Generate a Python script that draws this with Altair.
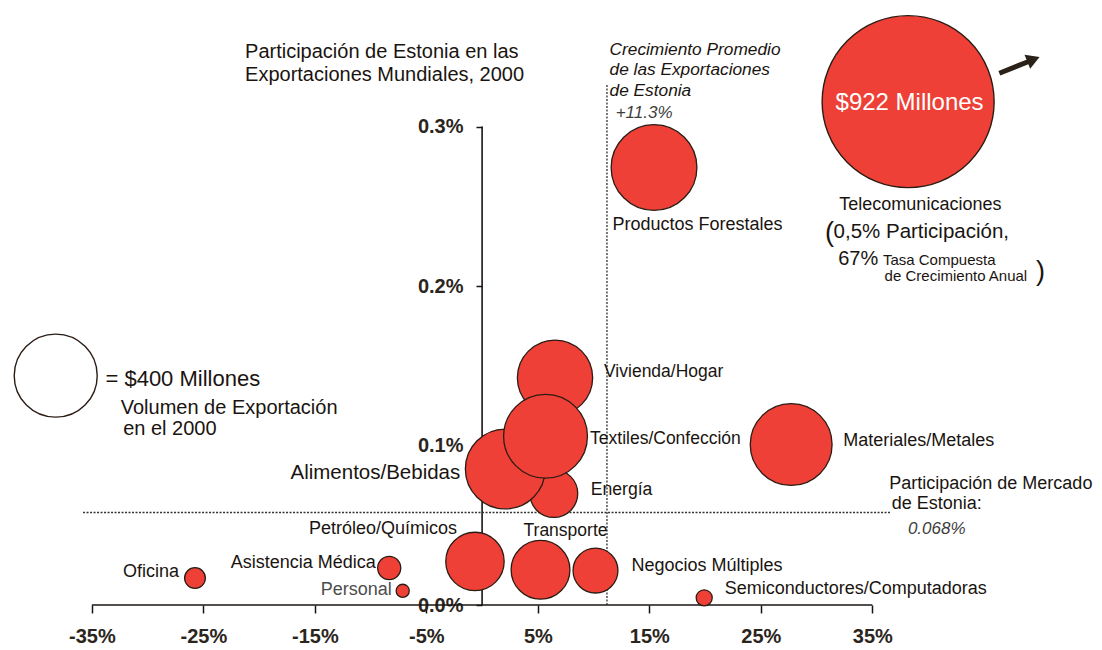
import altair as alt
import pandas as pd

FONT = "Liberation Sans"
INK = "#1a1410"
RED = "#ee4036"
EDGE = "#2a1c14"

# ---------------- data ----------------
sectors = ["Energía", "Alimentos/Bebidas", "Vivienda/Hogar", "Textiles/Confección",
           "Productos Forestales", "Materiales/Metales", "Petróleo/Químicos", "Transporte",
           "Negocios Múltiples", "Oficina", "Asistencia Médica", "Personal",
           "Semiconductores/Computadoras"]
growth = [6.43, 2.08, 6.54, 5.69, 15.42, 27.72, -0.64, 5.24, 10.17, -25.75, -8.33, -7.12, 19.92]
share = [0.0699, 0.0853, 0.1425, 0.1058, 0.2743, 0.1006, 0.0273, 0.0221, 0.0216, 0.0169, 0.0232, 0.0089, 0.0045]
volume = [133, 370, 329, 408, 427, 389, 198, 201, 117, 25, 31, 10, 15]

legend_volume = [400]
telecom_text = ["$922 Millones"]

x_ticks = [-35, -25, -15, -5, 5, 15, 25, 35]
y_ticks = [0.0, 0.1, 0.2, 0.3]
avg_growth = [11.2]      # vertical dotted line (label +11.3%)
avg_share = [0.058]      # horizontal dotted line (label 0.068%)

# ---------------- layout (label placement, inset positions) ----------------
# per-sector label offsets in pixels from the bubble centre
label_dx = [37, -45, 49, 44.5, -41.5, 52, -18, -17, 36, -16, -13.5, -11, 20.5]
label_dy = [-4, 4, -5.5, 3, 58, -3.5, -32.5, -39, -5, -6, -5, -0.5, -8.5]
label_align = ["left", "right", "left", "left", "left", "left", "right", "left",
               "left", "right", "right", "right", "left"]
label_size = [17.6, 20.5, 17.5, 17.5, 18, 18, 18, 17.5, 18, 18, 18, 18, 18]
label_color = [INK] * 11 + ["#4d4d4d", INK]

xs = alt.Scale(domain=[-42.52, 54.88], nice=False, zero=False)
ys = alt.Scale(domain=[0, 0.3743], nice=False, zero=False)
size_scale = alt.Scale(domain=[0, 400], range=[0, 6889])

axis_x = alt.Axis(values=x_ticks, labelExpr="datum.value + '%'", domain=False, grid=False,
                  tickSize=8, tickWidth=1.5, tickColor=INK, labelFont=FONT, labelFontSize=20,
                  labelFontWeight="bold", labelColor="#2b2520", labelPadding=13, title=None,
                  labelFlush=False, labelOverlap=False)
axis_y = alt.Axis(values=y_ticks, labelExpr="format(datum.value, '.1f') + '%'", orient="left",
                  offset=-474, domain=False, grid=False, tickSize=6, tickWidth=1.5, tickColor=INK,
                  labelFont=FONT, labelFontSize=20, labelFontWeight="bold", labelColor="#2b2520",
                  labelPadding=13, title=None, labelOverlap=False, labelFlush=False)

bubbles = pd.DataFrame({"sector": sectors, "growth": growth, "share": share, "volume": volume})


def X(field, **kw):
    return alt.X(f"{field}:Q", scale=xs, axis=axis_x, title=None, **kw)


def Y(field, **kw):
    return alt.Y(f"{field}:Q", scale=ys, axis=axis_y, title=None, **kw)


layers = []

# axis lines and reference lines
layers.append(alt.Chart(pd.DataFrame({"a": [x_ticks[0]], "b": [x_ticks[-1]], "y": [y_ticks[0]]}))
              .mark_rule(color=INK, strokeWidth=1.6)
              .encode(x=X("a"), x2="b:Q", y=Y("y")))
layers.append(alt.Chart(pd.DataFrame({"x": [0], "a": [y_ticks[0]], "b": [y_ticks[-1]]}))
              .mark_rule(color=INK, strokeWidth=1.6)
              .encode(x=X("x"), y=Y("a"), y2="b:Q"))
layers.append(alt.Chart(pd.DataFrame({"x": avg_growth, "a": [0], "b": [0.326]}))
              .mark_rule(color="#333333", strokeWidth=1.3, strokeDash=[2, 1.5])
              .encode(x=X("x"), y=Y("a"), y2="b:Q"))
layers.append(alt.Chart(pd.DataFrame({"a": [-35.79], "b": [36.58], "y": avg_share}))
              .mark_rule(color="#333333", strokeWidth=1.3, strokeDash=[2, 1.5])
              .encode(x=X("a"), x2="b:Q", y=Y("y")))

# bubbles
layers.append(alt.Chart(bubbles)
              .mark_circle(fill=RED, stroke=EDGE, strokeWidth=1.3, opacity=1)
              .encode(x=X("growth"), y=Y("share"),
                      size=alt.Size("volume:Q", scale=size_scale, legend=None)))

# size key
layers.append(alt.Chart(pd.DataFrame({"x": [-38.24], "y": [0.1438], "v": legend_volume}))
              .mark_circle(fill="white", stroke=EDGE, strokeWidth=1.4, opacity=1)
              .encode(x=X("x"), y=Y("y"), size=alt.Size("v:Q", scale=size_scale, legend=None)))

# telecom inset bubble (off the scale)
layers.append(alt.Chart(pd.DataFrame({"x": [38.21], "y": [0.3156], "t": telecom_text}))
              .mark_circle(fill=RED, stroke=EDGE, strokeWidth=1.4, opacity=1, size=172 ** 2)
              .encode(x=X("x"), y=Y("y")))
layers.append(alt.Chart(pd.DataFrame({"x": [38.34], "y": [0.3145], "t": telecom_text}))
              .mark_text(color="white", font=FONT, fontSize=24, align="center", baseline="middle")
              .encode(x=X("x"), y=Y("y"), text="t:N"))

# arrow
layers.append(alt.Chart(pd.DataFrame({"a": [46.39], "b": [49.14], "c": [0.3334], "d": [0.3411]}))
              .mark_rule(color="#2a2218", strokeWidth=5)
              .encode(x=X("a"), x2="b:Q", y=Y("c"), y2="d:Q"))
layers.append(alt.Chart(pd.DataFrame({"x": [49.45], "y": [0.3421]}))
              .mark_point(shape="triangle-right", filled=True, color="#2a2218", opacity=1,
                          size=230, angle=338)
              .encode(x=X("x"), y=Y("y")))

# sector labels
for i, name in enumerate(sectors):
    layers.append(alt.Chart(bubbles)
                  .transform_filter(alt.datum.sector == name)
                  .mark_text(font=FONT, fontSize=label_size[i], color=label_color[i],
                             align=label_align[i], baseline="middle",
                             dx=label_dx[i], dy=label_dy[i])
                  .encode(x=X("growth"), y=Y("share"), text="sector:N"))

# free annotations: (text, x, y of first line, style); multi-line texts use "\n"
styles = {
    "title": dict(fontSize=20, color=INK, lineHeight=22.5),
    "ital": dict(fontSize=17.3, color=INK, fontStyle="italic", lineHeight=20.5),
    "ital_light": dict(fontSize=17, color="#3d3d3d", fontStyle="italic", fontWeight=300),
    "lab": dict(fontSize=18, color=INK, lineHeight=20),
    "big": dict(fontSize=20.5, color=INK),
    "small": dict(fontSize=15, color=INK, lineHeight=15.7),
    "paren": dict(fontSize=27, color=INK),
    "key": dict(fontSize=22, color=INK),
    "key2": dict(fontSize=20, color=INK, lineHeight=21.6),
}
annotations = [
    ("Participación de Estonia en las\nExportaciones Mundiales, 2000", -21.26, 0.3467, "title"),
    ("Crecimiento Promedio\nde las Exportaciones\nde Estonia", 11.43, 0.3480, "ital"),
    ("+11.3%", 11.98, 0.3083, "ital_light"),
    ("Telecomunicaciones", 32.04, 0.2506, "lab"),
    ("(", 30.75, 0.2335, "paren"),
    ("0,5% Participación,", 31.52, 0.2337, "big"),
    ("67%", 31.94, 0.2167, "key2"),
    ("Tasa Compuesta", 35.95, 0.2163, "small"),
    ("de Crecimiento Anual", 36.10, 0.2065, "small"),
    (")", 49.68, 0.2089, "paren"),
    ("= $400 Millones", -33.78, 0.1415, "key"),
    ("Volumen de Exportación", -32.41, 0.1237, "key2"),
    ("en el 2000", -32.19, 0.1102, "key2"),
    ("Participación de Mercado", 36.52, 0.0757, "lab"),
    ("de Estonia:", 36.74, 0.0631, "lab"),
    ("0.068%", 38.19, 0.0475, "ital_light"),
]
for text, ax, ay, st in annotations:
    layers.append(alt.Chart(pd.DataFrame({"t": [text], "x": [ax], "y": [ay]}))
                  .mark_text(font=FONT, align="left", baseline="middle", lineBreak="\n", **styles[st])
                  .encode(x=X("x"), y=Y("y"), text="t:N"))

chart = (alt.layer(*layers)
         .properties(width=1086, height=597,
                     autosize=alt.AutoSizeParams(type="none"),
                     padding={"left": 0, "top": 0, "right": 0, "bottom": 43},
                     background="white")
         .configure_view(stroke=None))

chart.save("out.html", embed_options={"renderer": "svg", "actions": False})
